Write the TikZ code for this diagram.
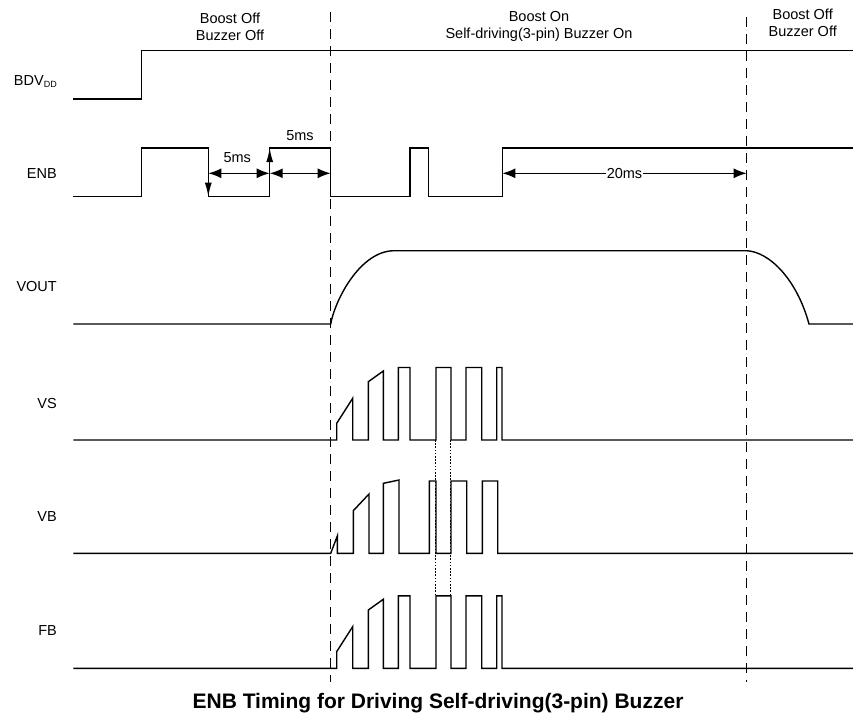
\documentclass[tikz,border=0pt]{standalone}
\usepackage{fontspec}
\setmainfont{Liberation Sans}
\usetikzlibrary{
    arrows.meta
}

\begin{document}
\begin{tikzpicture}[
    x=1pt, y=-1pt,
    font=\fontsize{14.5}{17}\selectfont,
    wave/.style={
        line width=1.4pt,
        line join=miter
    },
    guide/.style={
        line width=1.4pt,
        dash pattern=on 10pt off 7pt
    },
    link/.style={
        line width=1.1pt,
        dash pattern=on 1.6pt off 1.6pt
    },
    signame/.style={anchor=base east, inner sep=0pt},
    phase/.style={align=center, inner sep=0pt},
    span/.style={
        line width=1.4pt,
        {Latex[length=13pt,width=10pt]}-{Latex[length=13pt,width=10pt]}
    },
    edgearrow/.style={
        line width=1.4pt,
        -{Latex[length=14pt,width=7pt]}
    }
]

\useasboundingbox (0,0) rectangle (853,713);

% phase headings
\node[phase] (offone) at (230,26.6) {Boost Off\\Buzzer Off};
\node[phase] (boston) at (539,26.6) {Boost On\\Self-driving(3-pin) Buzzer On};
\node[phase] (offtwo) at (802.7,23.3) {Boost Off\\Buzzer Off};

% signal names
\node[signame] (nbdvdd) at (57,85.2)
{BDV\raisebox{-2.5pt}{\fontsize{9}{10}\selectfont DD}};
\node[signame] (nenb) at (57,178.5) {ENB};
\node[signame] (nvout) at (57,291.9) {VOUT};
\node[signame] (nvs) at (57,408.5) {VS};
\node[signame] (nvb) at (57,521.9) {VB};
\node[signame] (nfb) at (57,635.9) {FB};

% phase boundaries
\coordinate (gtop) at (330.7,12);
\coordinate (gbot) at (330.7,682);
\coordinate (htop) at (746.7,17);
\coordinate (hbot) at (746.7,682);
\draw[guide] (gtop) -- (gbot);
\draw[guide] (htop) -- (hbot);

% BDVDD
\draw[wave] (73.3,99) -- (141.7,99) -- (141.7,50.3) -- (853,50.3);

% ENB
\draw[wave] (73.3,196.7) -- (141.7,196.7) -- (141.7,148) -- (208.3,148)
    -- (208.3,196.7) -- (269.7,196.7) -- (269.7,148) -- (330.7,148)
    -- (330.7,196.7) -- (410,196.7) -- (410,148) -- (428.3,148)
    -- (428.3,196.7) -- (502.3,196.7) -- (502.3,148) -- (853,148);

% VOUT
\draw[wave] (73.3,324) -- (330.7,324)
    .. controls (335,300) and (360,251) .. (394,250.7) -- (746.7,250.7)
    .. controls (770,252) and (797,280) .. (809,324) -- (853,324);

% VS and FB
\foreach \b in {440,668.3} {
\draw[wave] (73.3,\b) -- (336.7,\b) -- (336.7,\b-16.7) -- (352.7,\b-41.7)
    -- (352.7,\b) -- (368.3,\b) -- (368.3,\b-58.3) -- (383.3,\b-69)
    -- (383.3,\b) -- (398.3,\b) -- (398.3,\b-72.5) -- (410,\b-72.5)
    -- (410,\b) -- (436,\b) -- (436,\b-72.5) -- (451,\b-72.5)
    -- (451,\b) -- (466,\b) -- (466,\b-72.5) -- (481.7,\b-72.5)
    -- (481.7,\b) -- (496.7,\b) -- (496.7,\b-72.5) -- (502,\b-72.5)
    -- (502,\b) -- (853,\b);
}

% VB
\draw[wave] (73.3,553.3) -- (330.7,553.3) -- (337.3,536) -- (337.3,553.3)
    -- (353.3,553.3) -- (353.3,510.7) -- (369,494) -- (369,553.3)
    -- (383.3,553.3) -- (383.3,483.3) -- (399,480) -- (399,553.3)
    -- (429.3,553.3) -- (429.3,481) -- (436,481) -- (436,553.3)
    -- (451,553.3) -- (451,481) -- (466.7,481) -- (466.7,553.3)
    -- (482.3,553.3) -- (482.3,481) -- (497.7,481) -- (497.7,553.3)
    -- (853,553.3);

% alignment of VS, VB and FB
\coordinate (lka) at (435.7,440);
\coordinate (lkb) at (435.7,595.8);
\coordinate (lkc) at (450.7,440);
\coordinate (lkd) at (450.7,595.8);
\draw[link] (lka) -- (lkb);
\draw[link] (lkc) -- (lkd);

% ENB timing
\coordinate (fallhi) at (208.3,148);
\coordinate (falllo) at (208.3,196.7);
\coordinate (risehi) at (269.7,148);
\coordinate (riselo) at (269.7,196.7);
\coordinate (da) at (208.3,173.3);
\coordinate (db) at (269.7,173.3);
\coordinate (dc) at (330.7,173.3);
\coordinate (dd) at (502.3,173.3);
\coordinate (de) at (746.7,173.3);

\draw[edgearrow] (fallhi) -- (falllo);
\draw[edgearrow] (riselo) -- (risehi);
\draw[span] (da) -- (db);
\draw[span] (db) -- (dc);
\draw[span] (dd) -- node[fill=white, inner sep=1pt] (msc) {20ms} (de);

\node[anchor=base] (msa) at (237.3,162) {5ms};
\node[anchor=base] (msb) at (300,140) {5ms};

% caption
\node[anchor=base, font=\bfseries\fontsize{21}{25}\selectfont] (title)
at (438,708.3) {ENB Timing for Driving Self-driving(3-pin) Buzzer};

\end{tikzpicture}
\end{document}
